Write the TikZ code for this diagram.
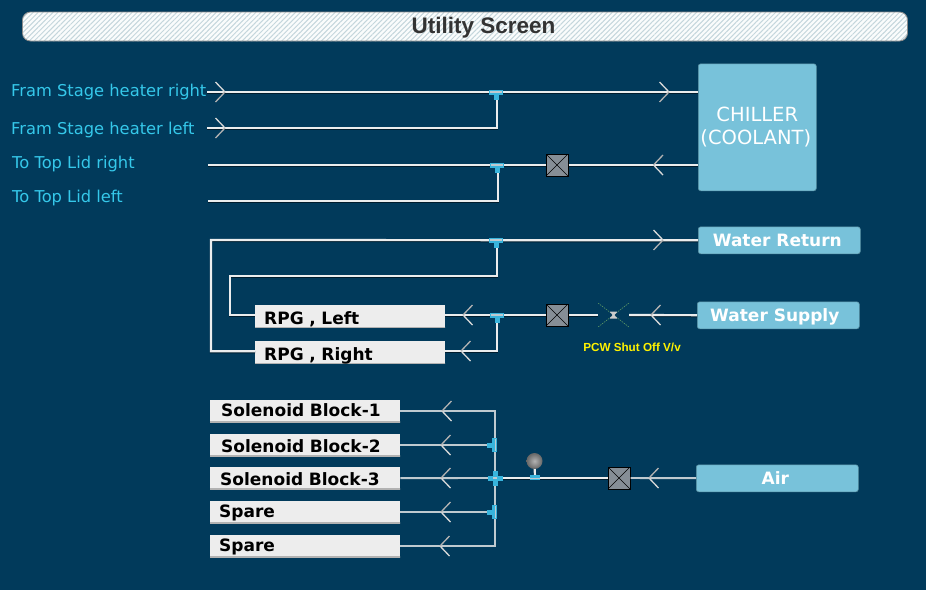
\documentclass[tikz,border=0pt]{standalone}
\usepackage{fontspec}
\setmainfont{DejaVu Sans}
\newfontfamily\arialfont{Liberation Sans}
\usetikzlibrary{positioning,calc,patterns.meta}
\definecolor{screen_bg}{HTML}{013A5B}
\definecolor{pipe_white}{HTML}{EBEDEE}
\definecolor{pipe_grey}{HTML}{BFCAD0}
\definecolor{panel_blue}{HTML}{78C2DA}
\definecolor{label_cyan}{HTML}{35C8EA}
\definecolor{tee_blue}{HTML}{38B4DC}
\definecolor{valve_grey}{HTML}{868E96}
\definecolor{box_white}{HTML}{EDEDED}
\definecolor{hatch_grey}{HTML}{C4D6DC}

\begin{document}
\begin{tikzpicture}[
        x=1pt,y=-1pt,
        % Pipe lines, drawn with a thin dark edge below them
        pipe/.style={draw=pipe_white,line width=2.2pt,
            preaction={draw=black!50!screen_bg,line width=2.2pt,transform canvas={yshift=-1pt}}},
        thin_pipe/.style={draw=pipe_grey,line width=1.9pt},
        % Blue panels on the right hand side
        panel/.style={draw=black!25!panel_blue,line width=0.6pt,fill=panel_blue,rounded corners=2.5pt,
            text=white,inner sep=0pt,font=\fontsize{17}{23}\selectfont\bfseries,anchor=north west},
        small_panel/.style={panel,minimum width=162pt,text height=19.5pt,text depth=7.5pt},
        % Light name plates with a grey bottom edge
        plate/.style={fill=box_white,text=black,inner sep=0pt,anchor=north west,
            text height=17pt,text depth=6pt,minimum width=190pt,text width=190pt,align=left,
            font=\fontsize{17}{18}\selectfont\bfseries,
            path picture={\fill[black!30] (path picture bounding box.south west) rectangle ++(400,-1.5);}},
        % Cyan labels on the left hand side
        side_label/.style={text=label_cyan,anchor=west,inner sep=0pt,font=\fontsize{16.3}{18}\selectfont},
        % Grey valve box with a cross
        valve/.style={draw=black,line width=1pt,fill=valve_grey,minimum size=22pt,inner sep=0pt,
            path picture={\draw[black,line width=0.6pt]
                (path picture bounding box.north west) -- (path picture bounding box.south east)
                (path picture bounding box.north east) -- (path picture bounding box.south west);}},
        % Open arrow marks on the pipes, tip at the origin
        chevron/.pic={
            \draw[black!15,line width=1.3pt] (-9.5,-10) -- (0,0);
            \draw[black!30,line width=1.3pt] (0,0) -- (-9.5,10);
        },
        % Blue pipe fittings
        tee_fit/.pic={
            \fill[tee_blue] (-7,-2) rectangle (7,3);
            \fill[tee_blue] (-2.5,3) rectangle (2.5,8);
            \fill[pipe_grey] (-6,-1) rectangle (6,0.5);
        },
        cross_fit/.pic={
            \fill[tee_blue] (-7.5,-2.5) rectangle (7.5,2.5);
            \fill[tee_blue] (-2.5,-7.5) rectangle (2.5,7.5);
            \fill[pipe_grey] (-2,-0.7) rectangle (2,0.7);
        }
    ]

    % Background, same size as the screen
    \fill[screen_bg] (0,0) rectangle (926,590);
    \useasboundingbox (0,0) rectangle (926,590);

    % Title bar
    \node[draw=black!45,line width=0.8pt,rounded corners=8pt,minimum width=885pt,minimum height=29pt,inner sep=0pt,
        preaction={fill=white!92!hatch_grey},
        pattern={Lines[angle=45,distance=3.5pt,line width=1pt]},pattern color=hatch_grey]
        (title_bar) at (465,26.5) {};
    \node[inner sep=0pt,text=black!80,font=\arialfont\fontsize{22.5}{26}\selectfont\bfseries]
        (title_text) at (483.5,27.5) {Utility Screen};

    % Labels on the left
    \node[side_label] (fram_right) at (11,92) {Fram Stage heater right};
    \node[side_label] (fram_left) at (11,130) {Fram Stage heater left};
    \node[side_label] (lid_right) at (12,164) {To Top Lid right};
    \node[side_label] (lid_left) at (12,198) {To Top Lid left};

    % Free ends of the four upper pipes
    \coordinate (fram_right_end) at (207,92);
    \coordinate (fram_left_end) at (207,128);
    \coordinate (lid_right_end) at (208,165);
    \coordinate (lid_left_end) at (208,201);

    % Panels
    \node[panel,minimum width=118pt,minimum height=127pt,align=center,font=\fontsize{19.5}{23}\selectfont]
        (chiller) at (698,63.5) {CHILLER\\(COOLANT)\hspace*{3pt}};
    \node[small_panel] (water_return) at (698,226.5) {Water Return\hspace*{4pt}};
    \node[small_panel] (water_supply) at (697,301.5) {Water Supply\hspace*{7pt}};
    \node[small_panel] (air) at (696,464.5) {Air\hspace*{4pt}};

    % Name plates
    \node[plate] (rpg_left) at (255,305) {\hspace*{9pt}\raisebox{-2pt}{RPG , Left}};
    \node[plate] (rpg_right) at (255,341) {\hspace*{9pt}\raisebox{-2pt}{RPG , Right}};
    \foreach \name/\ytop/\dx/\dy/\txt in {block_a/399.5/11/0/Solenoid Block-1,block_b/433.5/11/-2/Solenoid Block-2,
        block_c/466.5/10/-2/Solenoid Block-3,spare_a/500.5/9/0/Spare,spare_b/534.5/9/0/Spare}
        \node[plate] (\name) at (210,\ytop) {\hspace*{\dx pt}\raisebox{\dy pt}{\txt}};

    % Valves
    \node[valve] (valve_chiller) at (557,165) {};
    \node[valve] (valve_water) at (557,315) {};
    \node[valve] (valve_air) at (619,478) {};

    % Shut off valve, dark green cross and a small white body
    \node[minimum width=31pt,minimum height=24pt,inner sep=0pt,
        path picture={\draw[green!40!black!60!white,line width=0.5pt,dash pattern=on 1.5pt off 1pt]
            (path picture bounding box.north west) -- (path picture bounding box.south east)
            (path picture bounding box.north east) -- (path picture bounding box.south west);
            \fill[black!20] (-3.5,-3.5) rectangle (3.5,-2.3) (-3.5,2.3) rectangle (3.5,3.5)
                (-3,-2.3) -- (-0.8,0) -- (-3,2.3) -- (3,2.3) -- (0.8,0) -- (3,-2.3) -- cycle;}]
        (valve_shutoff) at (613.5,315) {};
    \node[inner sep=0pt,text=yellow,font=\arialfont\fontsize{11.7}{12}\selectfont\bfseries] (shutoff_text) at (632,347) {PCW Shut Off V/v};

    % Gauge on the air line
    \node[circle,inner color=black!30,outer color=black!60,minimum size=16pt,inner sep=0pt] (gauge) at (534.5,461) {};

    % Junctions
    \coordinate (tee_fram) at (497,92);
    \coordinate (tee_lid) at (498,165);
    \coordinate (tee_return) at (497,240);
    \coordinate (tee_supply) at (497,315);
    \coordinate (tee_block) at (495,478);
    \coordinate (tee_gauge) at (535,478);

    % Chiller pipes
    \draw[pipe] (fram_right_end) -- (chiller.west |- fram_right_end);
    \draw[pipe] (fram_left_end) -| (tee_fram);
    \draw[pipe] (lid_right_end) -- (valve_chiller);
    \draw[pipe] (valve_chiller) -- (chiller.west |- valve_chiller);
    \draw[pipe] (lid_left_end) -| (tee_lid);

    % Water pipes
    \coordinate (return_corner) at (211,240);
    \coordinate (left_corner) at (230,276);
    \draw[pipe] (water_return) -- (return_corner) |- ([yshift=1.5pt]rpg_right.west);
    \draw[pipe] (tee_return) |- (left_corner) |- ([yshift=1.5pt]rpg_left.west);
    \draw[pipe] (water_supply) -- (valve_shutoff);
    \draw[pipe] (valve_shutoff) -- (valve_water);
    \draw[pipe] (valve_water) -- (rpg_left.east |- valve_water);
    \draw[pipe] (tee_supply) |- ([yshift=1.5pt]rpg_right.east);

    % Air pipes
    \draw[thin_pipe] (air) -- (valve_air);
    \draw[pipe] (valve_air) -- (tee_block);
    \draw[thin_pipe] (tee_block) -- (block_c);
    \foreach \name in {block_a,block_b,spare_a,spare_b}
        \draw[thin_pipe] (tee_block) |- (\name);
    \draw[pipe] (gauge) -- (tee_gauge);

    % Pipe fittings
    \pic[xshift=-1pt] at (tee_fram) {tee_fit};
    \pic[xshift=-1pt] at (tee_lid) {tee_fit};
    \pic[xshift=-1pt] at (tee_return) {tee_fit};
    \pic at (tee_supply) {tee_fit};
    \pic[rotate=-90] at (495,445) {tee_fit};
    \pic[rotate=-90] at (495,512) {tee_fit};
    \pic at (tee_block) {cross_fit};
    \fill[tee_blue] (530,475) rectangle (540,480);
    \fill[pipe_grey] (530,477.5) rectangle (540,478.5);

    % Arrow marks pointing right
    \foreach \px/\py in {225/92,225/128,669/92,663/240}
        \pic at (\px,\py) {chevron};
    % Arrow marks pointing left
    \foreach \px/\py in {653.5/165,463/315,461/351,651/315,649/478,
        442/411,441/445,441/478,441/512,440/546}
        \pic[rotate=180] at (\px,\py) {chevron};

\end{tikzpicture}
\end{document}
